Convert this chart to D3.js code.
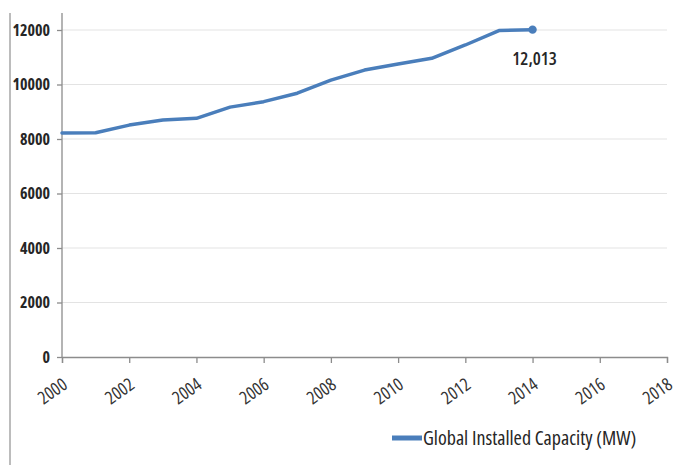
<!DOCTYPE html>
<html>
<head>
<meta charset="utf-8">
<script src="https://cdn.jsdelivr.net/npm/d3@7"></script>
<style>
  html, body { margin: 0; padding: 0; background: #fff; }
  svg { display: block; }
  text { font-stretch: 80%; }
</style>
</head>
<body>
<svg id="chart" width="680" height="465"></svg>
<script>
// Global installed capacity by year (MW)
const years = [2000, 2001, 2002, 2003, 2004, 2005, 2006, 2007, 2008, 2009, 2010, 2011, 2012, 2013, 2014];
const capacity = [8220, 8230, 8510, 8700, 8760, 9170, 9370, 9680, 10160, 10530, 10750, 10960, 11450, 11980, 12013];
const yTicks = [0, 2000, 4000, 6000, 8000, 10000, 12000];
const xTicks = [2000, 2002, 2004, 2006, 2008, 2010, 2012, 2014, 2016, 2018];
const seriesName = "Global Installed Capacity (MW)";

const svg = d3.select("#chart");
const font = "'Open Sans', sans-serif";
const lineColor = "#4a7ebb";
const axisColor = "#8c8c8c";
const textColor = "#262626";

const x = d3.scaleLinear().domain([2000, 2018]).range([62, 667]);
const y = d3.scaleLinear().domain([0, 12000]).range([357, 30]);

// outer frame edge on the left
svg.append("line")
  .attr("x1", 10).attr("x2", 10).attr("y1", 13).attr("y2", 465)
  .attr("stroke", "#a6a6a6").attr("stroke-width", 1.5);

// horizontal gridlines
svg.append("g")
  .selectAll("line")
  .data(yTicks.filter(d => d > 0))
  .join("line")
  .attr("x1", x(2000)).attr("x2", x(2018))
  .attr("y1", d => y(d)).attr("y2", d => y(d))
  .attr("stroke", "#e3e3e3").attr("stroke-width", 1.2);

// y axis
const yAxis = svg.append("g")
  .attr("transform", `translate(${x(2000)},0)`)
  .call(d3.axisLeft(y).tickValues(yTicks).tickSize(5).tickPadding(7).tickFormat(d3.format("d")));
yAxis.select(".domain").remove();
yAxis.append("line")
  .attr("x1", 0).attr("x2", 0).attr("y1", 13).attr("y2", y(0))
  .attr("stroke", axisColor).attr("stroke-width", 1.3);
yAxis.selectAll(".tick line").attr("stroke", axisColor).attr("stroke-width", 1.3);
yAxis.selectAll(".tick text")
  .attr("fill", textColor)
  .style("font-family", font).style("font-size", "16px").style("font-weight", "bold");

// x axis
const xAxis = svg.append("g")
  .attr("transform", `translate(0,${y(0)})`)
  .call(d3.axisBottom(x).tickValues(xTicks).tickSize(6).tickFormat(d3.format("d")));
xAxis.select(".domain").attr("stroke", axisColor).attr("stroke-width", 1.3);
xAxis.selectAll(".tick line").attr("stroke", axisColor).attr("stroke-width", 1.3);
xAxis.selectAll(".tick text")
  .attr("x", 0).attr("y", 0).attr("dy", "0.35em")
  .attr("text-anchor", "middle")
  .attr("transform", "translate(-10,34) rotate(-35)")
  .attr("fill", "#333")
  .style("font-family", font).style("font-size", "18px").style("font-weight", "500");

// capacity line
const data = years.map((yr, i) => ({ year: yr, value: capacity[i] }));
svg.append("path")
  .datum(data)
  .attr("fill", "none")
  .attr("stroke", lineColor)
  .attr("stroke-width", 3.5)
  .attr("stroke-linejoin", "round")
  .attr("stroke-linecap", "round")
  .attr("d", d3.line().x(d => x(d.year)).y(d => y(d.value)));

// marker and label on the latest value
const last = data[data.length - 1];
svg.append("circle")
  .attr("cx", x(last.year)).attr("cy", y(last.value))
  .attr("r", 4.2).attr("fill", lineColor);
svg.append("text")
  .attr("x", x(last.year) + 2).attr("y", y(last.value) + 29)
  .attr("dy", "0.35em")
  .attr("text-anchor", "middle")
  .attr("fill", textColor)
  .style("font-family", font).style("font-size", "18px").style("font-weight", "600")
  .text(d3.format(",")(last.value));

// legend
const legend = svg.append("g").attr("transform", "translate(392,438)");
legend.append("line")
  .attr("x1", 0).attr("x2", 30).attr("y1", 0).attr("y2", 0)
  .attr("stroke", lineColor).attr("stroke-width", 5);
legend.append("text")
  .attr("x", 31).attr("y", 0).attr("dy", "0.35em")
  .attr("fill", textColor)
  .style("font-family", font).style("font-size", "20px").style("font-weight", "500")
  .text(seriesName);
</script>
</body>
</html>
